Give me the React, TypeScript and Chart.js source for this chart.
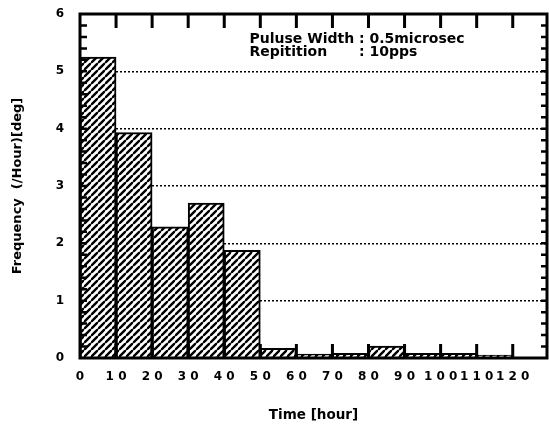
import React, { useEffect, useRef } from 'react';
import { Chart, registerables } from 'chart.js';

Chart.register(...registerables);

// ---- data ----
const binStarts = [0, 10, 20, 30, 40, 50, 60, 70, 80, 90, 100, 110];
const binWidth = 10;
const frequencies = [5.25, 3.93, 2.29, 2.7, 1.88, 0.17, 0.07, 0.08, 0.21, 0.08, 0.08, 0.05];
const xTickValues = [0, 10, 20, 30, 40, 50, 60, 70, 80, 90, 100, 110, 120];
const yTickValues = [0, 1, 2, 3, 4, 5, 6];
const xMin = 0;
const xMax = 129.5;
const yMin = 0;
const yMax = 6;
const yMinorStep = 0.2;
const annotationLabels = ['Puluse Width', 'Repitition'];
const annotationValues = [': 0.5microsec', ': 10pps'];
const annotationAnchor = { x: 47, y: 5.49 };
const xTitle = 'Time [hour]';
const yTitle = 'Frequency  (/Hour)[deg]';

const FONT = "'DejaVu Sans', 'Liberation Sans', sans-serif";

function makeHatch(): CanvasPattern | string {
  const size = 7;
  const c = document.createElement('canvas');
  c.width = size;
  c.height = size;
  const g = c.getContext('2d');
  if (!g) return '#fff';
  g.fillStyle = '#fff';
  g.fillRect(0, 0, size, size);
  g.strokeStyle = '#000';
  g.lineWidth = 2.4;
  g.beginPath();
  g.moveTo(-1, size + 1);
  g.lineTo(size + 1, -1);
  g.moveTo(-1 - size, 1);
  g.lineTo(1, -1);
  g.moveTo(size - 1, size + 1);
  g.lineTo(2 * size + 1, size - 1);
  g.stroke();
  const p = g.createPattern(c, 'repeat');
  return p || '#fff';
}

const framePlugin = {
  id: 'frameTicks',
  afterDatasetsDraw(chart: any) {
    const { ctx, chartArea } = chart;
    const xs = chart.scales.x;
    const ys = chart.scales.y;
    const { left, right, top, bottom } = chartArea;
    ctx.save();
    ctx.strokeStyle = '#000';
    ctx.lineCap = 'butt';
    ctx.lineWidth = 3;
    ctx.beginPath();
    xTickValues.forEach((v) => {
      if (v === xMin) return;
      const px = xs.getPixelForValue(v);
      ctx.moveTo(px, top);
      ctx.lineTo(px, top + 14);
      ctx.moveTo(px, bottom);
      ctx.lineTo(px, bottom - 14);
    });
    ctx.stroke();
    ctx.lineWidth = 2.5;
    ctx.beginPath();
    const n = Math.round((yMax - yMin) / yMinorStep);
    for (let i = 1; i < n; i++) {
      const v = yMin + i * yMinorStep;
      const py = ys.getPixelForValue(v);
      ctx.moveTo(left, py);
      ctx.lineTo(left + 7, py);
      ctx.moveTo(right, py);
      ctx.lineTo(right - 6, py);
    }
    ctx.stroke();
    ctx.lineWidth = 3;
    ctx.strokeRect(left, top, right - left, bottom - top);
    ctx.restore();
  },
  afterDraw(chart: any) {
    const { ctx } = chart;
    const xs = chart.scales.x;
    const ys = chart.scales.y;
    ctx.save();
    ctx.fillStyle = '#000';
    ctx.font = `bold 14px ${FONT}`;
    ctx.textBaseline = 'alphabetic';
    const x0 = xs.getPixelForValue(annotationAnchor.x);
    const y0 = ys.getPixelForValue(annotationAnchor.y);
    const colonX = x0 + ctx.measureText(annotationLabels[0] + ' ').width;
    annotationLabels.forEach((lab, i) => {
      ctx.fillText(lab, x0, y0 + i * 13);
      ctx.fillText(annotationValues[i], colonX, y0 + i * 13);
    });
    ctx.restore();
  },
};

export default function App() {
  const ref = useRef<HTMLCanvasElement | null>(null);
  useEffect(() => {
    if (!ref.current) return;
    const hatch = makeHatch();
    const chart = new Chart(ref.current, {
      type: 'bar',
      data: {
        datasets: [
          {
            data: binStarts.map((s, i) => ({ x: s + binWidth / 2, y: frequencies[i] })),
            backgroundColor: hatch as any,
            borderColor: '#000',
            borderWidth: 2,
            borderSkipped: 'bottom',
            barPercentage: 1,
            categoryPercentage: 1,
          },
        ],
      },
      options: {
        animation: false,
        responsive: true,
        maintainAspectRatio: false,
        layout: { padding: { top: 14, right: 2, left: 0, bottom: 0 } },
        plugins: { legend: { display: false }, tooltip: { enabled: false } },
        scales: {
          x: {
            type: 'linear',
            offset: false,
            min: xMin,
            max: xMax,
            afterBuildTicks: (scale: any) => {
              scale.ticks = xTickValues.map((v) => ({ value: v }));
            },
            afterFit: (scale: any) => {
              scale.height = 72;
              scale.paddingLeft = 0;
              scale.paddingRight = 0;
            },
            grid: { display: false, drawTicks: false, offset: false },
            border: { display: false },
            ticks: {
              autoSkip: false,
              maxRotation: 0,
              minRotation: 0,
              padding: 12,
              color: '#000',
              font: { family: FONT, size: 12, weight: 'bold' },
              callback: (v: any) => String(v).split('').join(' '),
            },
            title: {
              display: true,
              text: xTitle,
              color: '#000',
              font: { family: FONT, size: 13.5, weight: 'bold' },
              padding: { top: 0, bottom: 6 },
            },
          },
          y: {
            min: yMin,
            max: yMax,
            afterBuildTicks: (scale: any) => {
              scale.ticks = yTickValues.map((v) => ({ value: v }));
            },
            afterFit: (scale: any) => {
              scale.width = 80;
              scale.paddingTop = 0;
              scale.paddingBottom = 0;
            },
            grid: {
              color: '#000',
              lineWidth: 1.5,
              drawTicks: false,
            },
            border: { display: false, dash: [2, 2] },
            ticks: {
              padding: 16,
              color: '#000',
              font: { family: FONT, size: 12, weight: 'bold' },
            },
            title: {
              display: true,
              text: yTitle,
              color: '#000',
              font: { family: FONT, size: 13, weight: 'bold' },
              padding: { top: 10, bottom: 0 },
            },
          },
        },
      } as any,
      plugins: [framePlugin],
    });
    return () => chart.destroy();
  }, []);
  return (
    <div style={{ position: 'absolute', left: 0, top: 0, width: 549, height: 430, background: '#fff' }}>
      <canvas ref={ref} />
    </div>
  );
}
